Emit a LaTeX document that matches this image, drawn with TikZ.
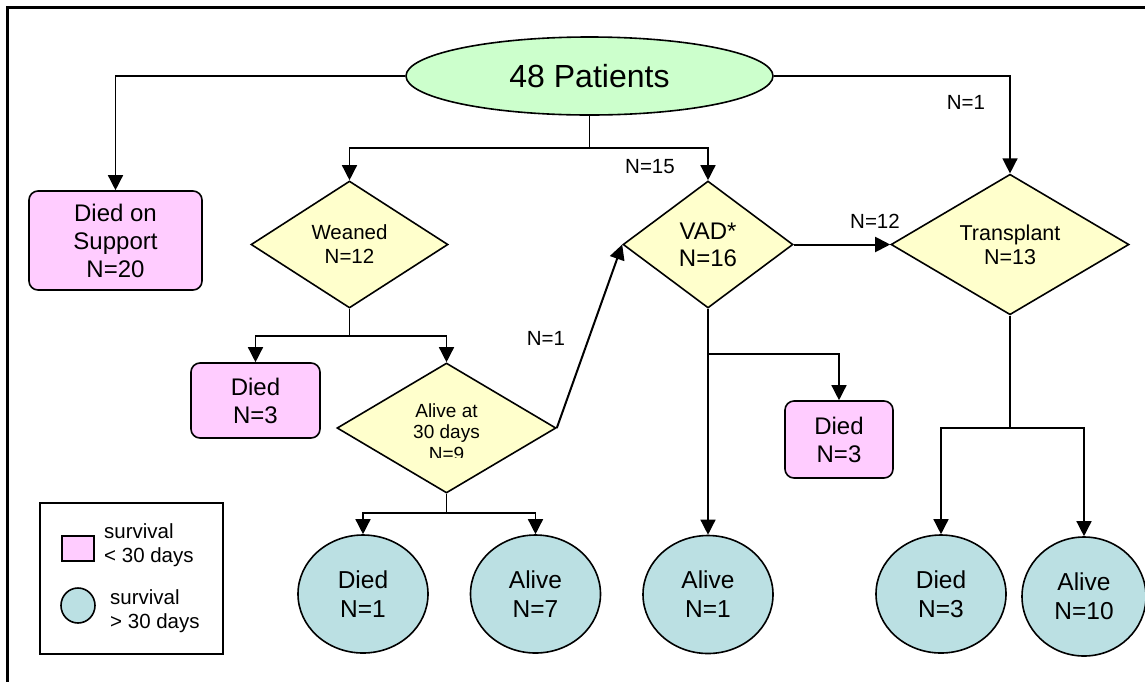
\documentclass[tikz,border=0pt]{standalone}
\usepackage{fontspec}
\setmainfont{Liberation Sans}
\usetikzlibrary{shapes.geometric,arrows.meta}

\definecolor{pinkfill}{RGB}{255,204,255}
\definecolor{yellowfill}{RGB}{255,255,204}
\definecolor{greenfill}{RGB}{204,255,204}
\definecolor{tealfill}{RGB}{187,224,227}

\begin{document}
\begin{tikzpicture}[x=1pt,y=-1pt,
 conn/.style={line width=1.4pt,-{Triangle[length=15pt,width=15pt]}},
 plainline/.style={line width=1.4pt},
 pinkbox/.style={draw,line width=1.6pt,fill=pinkfill,rounded corners=9pt,inner sep=0pt,align=center,font=\fontsize{24}{28}\selectfont},
 decision/.style={draw,diamond,line width=1.6pt,fill=yellowfill,inner sep=0pt,align=center},
 outcome/.style={draw,ellipse,line width=1.6pt,fill=tealfill,minimum width=130pt,minimum height=118pt,inner sep=0pt,align=center,font=\fontsize{24.5}{29}\selectfont},
 lbl/.style={font=\fontsize{20.5}{24}\selectfont,inner sep=0pt}
]
\path[use as bounding box, clip] (0,0) rectangle (1145,681);

% frame
\draw[line width=2.2pt] (7.5,700) -- (7.5,7.5) -- (1165,7.5);

% nodes
\node[draw,ellipse,line width=1.6pt,fill=greenfill,minimum width=367pt,minimum height=78pt,inner sep=0pt,font=\fontsize{32}{36}\selectfont] (root) at (589.5,76) {48 Patients};

\node[pinkbox,minimum width=173pt,minimum height=99pt] (dos) at (115.5,240.5) {Died on\\Support\\N=20};

\node[decision,minimum width=197pt,minimum height=127pt,font=\fontsize{20.5}{24}\selectfont] (wean) at (349.5,244.5) {Weaned\\N=12};
\node[decision,minimum width=170pt,minimum height=127pt,font=\fontsize{24}{27}\selectfont] (vad) at (708,244.5) {VAD*\\N=16};
\node[decision,minimum width=238pt,minimum height=139pt,font=\fontsize{21.5}{24}\selectfont] (tr) at (1010,244.5) {Transplant\\N=13};

\node[pinkbox,minimum width=129pt,minimum height=75pt] (diedA) at (255.5,400.5) {Died\\N=3};
\node[decision,minimum width=219pt,minimum height=130pt] (alive) at (446.5,428) {};
\begin{scope}[font=\fontsize{19}{21}\selectfont]
\node[anchor=base,inner sep=0pt] (aliveT1) at (446.5,417.6) {Alive at};
\node[anchor=base,inner sep=0pt] (aliveT2) at (446.5,438.6) {30 days};
\begin{scope}
\clip (400,440) rectangle (500,457);
\node[anchor=base,inner sep=0pt] (aliveT3) at (446.5,460) {N=9};
\end{scope}
\end{scope}

\node[pinkbox,minimum width=108pt,minimum height=77pt] (diedB) at (839,439.5) {Died\\N=3};

\node[outcome] (died1) at (363,594) {Died\\N=1};
\node[outcome] (alive7) at (535.5,594) {Alive\\N=7};
\node[outcome] (alive1) at (708,594.5) {Alive\\N=1};
\node[outcome] (died3) at (941,594) {Died\\N=3};
\node[outcome,minimum width=124pt,minimum height=119pt] (alive10) at (1084,596.5) {Alive\\N=10};

% connectors
\draw[conn] (root.west) -| (dos.north);
\draw[conn] (root.east) -| (tr.north);
\coordinate (rb) at (589.5,148);
\draw[plainline] (root.south) -- (rb);
\draw[conn] (rb) -| (wean.north);
\draw[conn] (rb) -| (vad.north);

\coordinate (wb) at (349.5,336);
\draw[plainline] (wean.south) -- (wb);
\draw[conn] (wb) -| (diedA.north);
\draw[conn] (wb) -| (alive.north);

\coordinate (ab) at (446.5,513);
\draw[plainline] (alive.south) -- (ab);
\draw[conn] (ab) -| (died1.north);
\draw[conn] (ab) -| (alive7.north);

\draw[conn,line width=2pt] (alive.east) -- (vad.west);
\draw[conn,line width=2pt] (vad.east) -- (tr.west);

\draw[conn] (vad.south) -- (alive1.north);
\coordinate (vb) at (708,354);
\draw[conn] (vb) -| (diedB.north);

\coordinate (tb) at (1010,428);
\draw[plainline] (tr.south) -- (tb);
\draw[conn] (tb) -| (died3.north);
\draw[conn] (tb) -| (alive10.north);

% labels
\node[lbl] (l15) at (650,167) {N=15};
\node[lbl] (l1top) at (966,102) {N=1};
\node[lbl] (l12) at (875,221) {N=12};
\node[lbl] (l1mid) at (546,338) {N=1};

% legend
\node[draw,line width=2pt,minimum width=183pt,minimum height=151pt,inner sep=0pt] (legend) at (131.5,578.5) {};
\node[draw,fill=pinkfill,line width=1.3pt,minimum width=32pt,minimum height=25pt,inner sep=0pt] (legsq) at (78,548.5) {};
\node[draw,ellipse,fill=tealfill,line width=1.6pt,minimum width=34pt,minimum height=35pt,inner sep=0pt] (legci) at (78,605.5) {};
\node[lbl,anchor=west,align=left] (legt1) at (104,545) {survival\\< 30 days};
\node[lbl,anchor=west,align=left] (legt2) at (110,611) {survival\\> 30 days};
\end{tikzpicture}
\end{document}
